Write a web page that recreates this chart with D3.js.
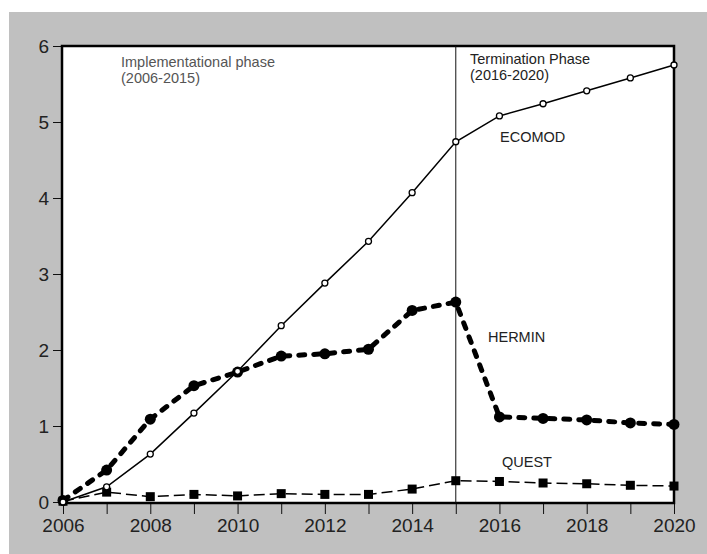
<!DOCTYPE html>
<html lang="en">
<head>
    <meta charset="UTF-8">
    <title>ECOMOD HERMIN QUEST</title>
    <script src="https://d3js.org/d3.v7.min.js" charset="utf-8"></script>
    <style>
        body { margin: 0; background: #fff; }
        text { font-family: "Liberation Sans", Arial, sans-serif; }
    </style>
</head>
<body>
    <div id="vis"></div>

    <script>

        var years = [2006, 2007, 2008, 2009, 2010, 2011, 2012, 2013, 2014, 2015, 2016, 2017, 2018, 2019, 2020];
        var ecomod = [0, 0.2, 0.63, 1.17, 1.72, 2.32, 2.88, 3.43, 4.07, 4.74, 5.08, 5.24, 5.41, 5.58, 5.75];
        var hermin = [0.02, 0.42, 1.09, 1.53, 1.71, 1.92, 1.95, 2.01, 2.52, 2.63, 1.12, 1.1, 1.08, 1.04, 1.02];
        var quest = [0.01, 0.13, 0.07, 0.1, 0.08, 0.11, 0.1, 0.1, 0.17, 0.28, 0.27, 0.25, 0.24, 0.22, 0.21];
        var xTicks = [2006, 2008, 2010, 2012, 2014, 2016, 2018, 2020];
        var yTicks = [0, 1, 2, 3, 4, 5, 6];

        var width = 707;
        var height = 554;

        var svg = d3.select("#vis")
            .append("svg")
              .attr('width', width)
              .attr('height', height);

        // grey panel
        svg.append('rect')
            .attr('x', 9).attr('y', 12)
            .attr('width', width - 9).attr('height', height - 12)
            .attr('fill', '#c0c0c0');

        var x_scale = d3.scaleLinear()
            .domain([2006, 2020])
            .range([63, 674]);

        var y_scale = d3.scaleLinear()
            .domain([0, 6])
            .range([502, 46]);

        // white plot area
        svg.append('rect')
            .attr('x', 62).attr('y', 46)
            .attr('width', 674 - 62).attr('height', 503 - 46)
            .attr('fill', '#fff');

        // axes
        var x_axis = d3.axisBottom(x_scale)
            .tickValues(years)
            .tickSize(11)
            .tickFormat(function(d) { return xTicks.indexOf(d) >= 0 ? d : ''; });

        var y_axis = d3.axisLeft(y_scale)
            .tickValues(yTicks)
            .tickSize(9)
            .tickFormat(d3.format('d'));

        var gx = svg.append('g')
            .attr('transform', 'translate(0, 503)')
            .call(x_axis);

        var gy = svg.append('g')
            .attr('transform', 'translate(62, 0)')
            .call(y_axis);

        [gx, gy].forEach(function(g) {
            g.select('.domain').remove();
            g.selectAll('line').attr('stroke', '#111').attr('stroke-width', 1);
            g.selectAll('text')
                .attr('fill', '#222')
                .style('font-size', '19px');
        });
        gx.selectAll('text').attr('dy', null).attr('y', 29);
        gy.selectAll('text').attr('x', -13).attr('dy', '0.36em');

        // frame
        svg.append('rect')
            .attr('x', 62).attr('y', 46)
            .attr('width', 674 - 62).attr('height', 503 - 46)
            .attr('fill', 'none')
            .attr('stroke', '#000')
            .attr('stroke-width', 2.5);

        // phase divider
        svg.append('line')
            .attr('x1', x_scale(2015)).attr('x2', x_scale(2015))
            .attr('y1', 46).attr('y2', 503)
            .attr('stroke', '#111')
            .attr('stroke-width', 1);

        var line = d3.line()
            .x(function(d) { return x_scale(d[0]); })
            .y(function(d) { return y_scale(d[1]); });

        function pairs(vals) {
            return years.map(function(y, i) { return [y, vals[i]]; });
        }

        var plot = svg.append('g');

        // QUEST
        plot.append('path')
            .datum(pairs(quest))
            .attr('d', line)
            .attr('fill', 'none')
            .attr('stroke', '#000')
            .attr('stroke-width', 1.5)
            .attr('stroke-dasharray', '11,5');

        plot.selectAll('.quest')
            .data(pairs(quest))
            .enter()
            .append('rect')
            .attr('class', 'quest')
            .attr('x', function(d) { return x_scale(d[0]) - 4.5; })
            .attr('y', function(d) { return y_scale(d[1]) - 4.5; })
            .attr('width', 9).attr('height', 9)
            .attr('fill', '#000');

        // ECOMOD
        plot.append('path')
            .datum(pairs(ecomod))
            .attr('d', line)
            .attr('fill', 'none')
            .attr('stroke', '#000')
            .attr('stroke-width', 1.5);

        // HERMIN
        plot.append('path')
            .datum(pairs(hermin))
            .attr('d', line)
            .attr('fill', 'none')
            .attr('stroke', '#000')
            .attr('stroke-width', 5)
            .attr('stroke-linecap', 'round')
            .attr('stroke-dasharray', '6,9');

        plot.selectAll('.hermin')
            .data(pairs(hermin))
            .enter()
            .append('circle')
            .attr('class', 'hermin')
            .attr('cx', function(d) { return x_scale(d[0]); })
            .attr('cy', function(d) { return y_scale(d[1]); })
            .attr('r', 5.5)
            .attr('fill', '#000');

        plot.selectAll('.ecomod')
            .data(pairs(ecomod))
            .enter()
            .append('circle')
            .attr('class', 'ecomod')
            .attr('cx', function(d) { return x_scale(d[0]); })
            .attr('cy', function(d) { return y_scale(d[1]); })
            .attr('r', 3)
            .attr('fill', '#fff')
            .attr('stroke', '#000')
            .attr('stroke-width', 1.3);

        // labels
        var notes = [
            { t: 'Implementational phase', x: 121, y: 67 },
            { t: '(2006-2015)', x: 121, y: 83 },
            { t: 'Termination Phase', x: 470, y: 64 },
            { t: '(2016-2020)', x: 470, y: 80 },
            { t: 'ECOMOD', x: 500, y: 142 },
            { t: 'HERMIN', x: 488, y: 342 },
            { t: 'QUEST', x: 502, y: 467 }
        ];

        svg.selectAll('.note')
            .data(notes)
            .enter()
            .append('text')
            .attr('class', 'note')
            .attr('x', function(d) { return d.x; })
            .attr('y', function(d) { return d.y; })
            .attr('fill', function(d, i) { return i < 2 ? '#555' : '#222'; })
            .style('font-size', '14.5px')
            .text(function(d) { return d.t; });

    </script>
</body>
</html>
